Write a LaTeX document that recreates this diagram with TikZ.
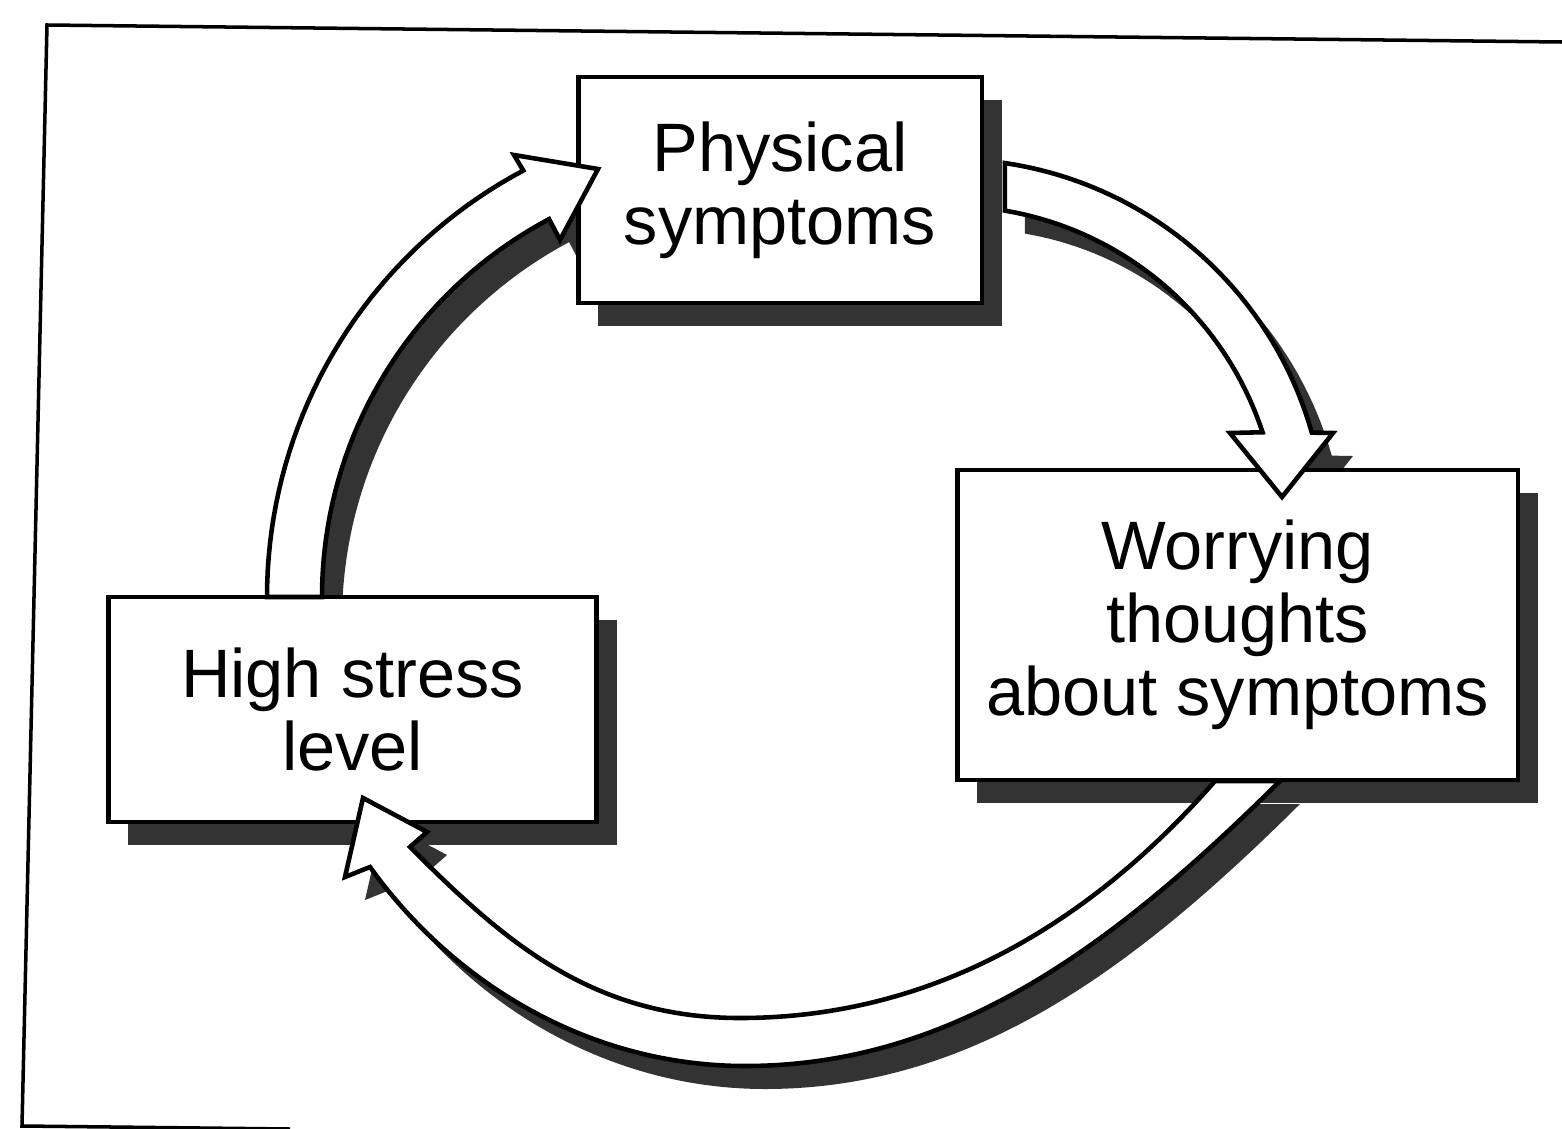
\documentclass[tikz,border=0pt]{standalone}
\usepackage{fontspec}
\setmainfont{Liberation Sans}
\usetikzlibrary{shadows}
\tikzset{
  shadowfill/.style={fill=black!80},
  stepbox/.style={draw=black, line width=2.8pt, fill=white, align=center, inner sep=0pt,
    font=\fontsize{39}{41.5}\selectfont,
    drop shadow={shadow xshift=0.4cm, shadow yshift=-0.46cm, opacity=1, fill=black!80}},
  blockarrow/.style={draw=black, line width=2.6pt, fill=white, line join=miter},
  frameline/.style={draw=black, line width=2pt}
}
\def\leftarrowshape{plot[domain=180:118,samples=40,variable=\t] ({750+483*cos(\t)},{597-483*sin(\t)}) -- (514,155) -- (598,169) -- (560,240) -- plot[domain=118:180,samples=40,variable=\t] ({750+428*cos(\t)},{597-428*sin(\t)}) -- cycle}
\def\rightarrowshape{plot[domain=81.6:15.8,samples=40,variable=\t] ({950+376*cos(\t)},{535-376*sin(\t)}) -- (1333,433) -- (1282,497) -- (1230,433) -- plot[domain=18.2:80.4,samples=40,variable=\t] ({950+329*cos(\t)},{535-329*sin(\t)}) -- cycle}
\def\bottomarrowshape{(1280,781) .. controls (1110,950) and (950,1066) .. (745,1066) .. controls (595,1066) and (457.5,988.8) .. (370,867) -- (345,877) -- (363,798) -- (427,832) -- (410,847) .. controls (502,939) and (590,1018) .. (740,1018) .. controls (940,1018) and (1096.6,916.4) .. (1215,781) -- cycle}
\begin{document}
\begin{tikzpicture}[x=0.02cm,y=-0.02cm]
\useasboundingbox (0,0) rectangle (1562,1129);
\fill[white] (0,0) rectangle (1562,1129);
\clip (0,0) rectangle (1562,1129);
% outer frame
\draw[frameline] (1562,42) -- (47,25) -- (22,1126) -- (290,1129);
% arrow shadows
\path[shadowfill, shift={(20,23)}] \leftarrowshape;
\path[shadowfill, shift={(20,23)}] \rightarrowshape;
\path[shadowfill, shift={(20,23)}] \bottomarrowshape;
% boxes
\node[stepbox, minimum width=8.08cm, minimum height=4.52cm] (phys) at (780,190) {Physical\\symptoms};
\node[stepbox, minimum width=11.22cm, minimum height=6.2cm] (worry) at (1237.5,625) {Worrying\\thoughts\\about symptoms};
\node[stepbox, minimum width=9.78cm, minimum height=4.5cm] (stress) at (352.5,709.5) {High stress\\level};
% arrows
\path[blockarrow] \leftarrowshape;
\path[blockarrow] \rightarrowshape;
\path[blockarrow] \bottomarrowshape;
\end{tikzpicture}
\end{document}
